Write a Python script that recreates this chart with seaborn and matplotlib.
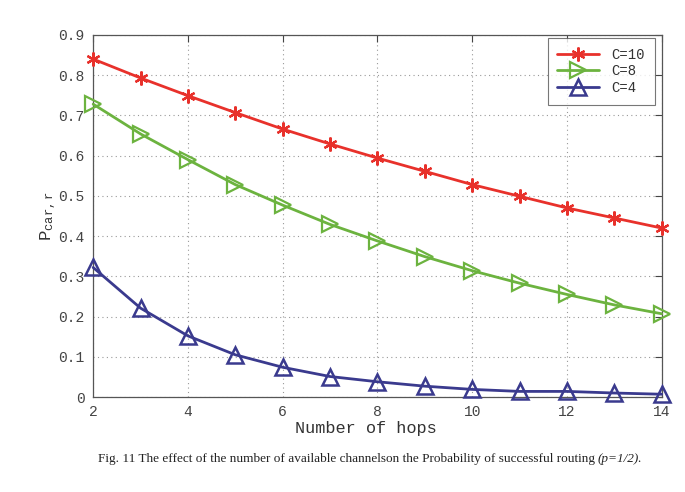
"""
Probability of successful routing vs number of hops, for different channel counts.
"""
import seaborn as sns
import matplotlib
matplotlib.use("Agg")
import matplotlib.pyplot as plt
import pandas as pd

hops = [2, 3, 4, 5, 6, 7, 8, 9, 10, 11, 12, 13, 14]
p_c10 = [0.840, 0.793, 0.749, 0.707, 0.666, 0.629, 0.594, 0.561, 0.528, 0.499, 0.470, 0.445, 0.420]
p_c8 = [0.728, 0.654, 0.590, 0.528, 0.477, 0.429, 0.388, 0.349, 0.314, 0.283, 0.255, 0.229, 0.207]
p_c4 = [0.322, 0.221, 0.152, 0.105, 0.074, 0.051, 0.038, 0.027, 0.019, 0.014, 0.014, 0.010, 0.007]
labels = ["C=10", "C=8", "C=4"]

df = pd.DataFrame({
    "hops": hops * 3,
    "p": p_c10 + p_c8 + p_c4,
    "C": [labels[0]] * len(hops) + [labels[1]] * len(hops) + [labels[2]] * len(hops),
})

sns.set_theme(style="white")
plt.rcParams["font.family"] = ["Liberation Mono", "DejaVu Sans"]
plt.rcParams["mathtext.fontset"] = "custom"
plt.rcParams["mathtext.rm"] = "Liberation Mono"
plt.rcParams["mathtext.it"] = "Liberation Mono"

fig = plt.figure(figsize=(6.85, 4.92), dpi=100)
ax = fig.add_axes([0.136, 0.193, 0.830, 0.736])

styles = {
    "C=10": dict(color="#e8312b", marker=(6, 2, 0), ms=10, mew=1.6),
    "C=8": dict(color="#6cb33f", marker=">", ms=11, mew=1.6, mfc="none"),
    "C=4": dict(color="#3a3a8e", marker="^", ms=11, mew=1.8, mfc="none"),
}
for lab in labels:
    st = styles[lab]
    sns.lineplot(data=df[df["C"] == lab], x="hops", y="p", ax=ax, label=lab,
                 color=st["color"], marker=st["marker"], markersize=st["ms"],
                 markeredgewidth=st["mew"], markeredgecolor=st["color"],
                 markerfacecolor=st.get("mfc", st["color"]), linewidth=2,
                 errorbar=None, clip_on=False, zorder=3)

ax.set_xlim(2, 14)
ax.set_ylim(0, 0.9)
ax.set_xticks(range(2, 15, 2))
ax.set_yticks([i / 10 for i in range(10)])
ax.set_yticklabels(["0"] + [f"0.{i}" for i in range(1, 10)])
ax.grid(True, linestyle=(0, (1, 3)), color="#999999", linewidth=0.8)
ax.tick_params(direction="in", top=True, right=True, length=5, width=0.8,
               labelsize=10.5, colors="#444444", pad=6)
for sp in ax.spines.values():
    sp.set_color("#555555")
    sp.set_linewidth(0.9)

ax.set_xlabel("Number of hops", fontsize=12.2, color="#333333")
ax.xaxis.set_label_coords(0.48, -0.066)
ax.set_ylabel(r"P$_{\mathrm{car,r}}$", fontsize=12.5, color="#333333")
ax.yaxis.set_label_coords(-0.062, 0.5)

leg = ax.legend(loc="upper right", fontsize=10, handlelength=3.0, frameon=True,
                fancybox=False, borderpad=0.7, labelspacing=0.2,
                handletextpad=0.9, borderaxespad=0,
                bbox_to_anchor=(0.988, 0.992))
leg.get_frame().set_edgecolor("#555555")
leg.get_frame().set_linewidth(0.8)
for t in leg.get_texts():
    t.set_color("#333333")

fig.text(0.873, 0.067,
         "Fig. 11 The effect of the number of available channelson the Probability of successful routing ",
         fontsize=9.5, family="Liberation Serif", ha="right", va="center", color="#222222")
fig.text(0.873, 0.067, "(p=1/2).", fontsize=9.5, family="Liberation Serif",
         style="italic", ha="left", va="center", color="#222222")

fig.savefig("out.png", dpi=100, facecolor="white")
